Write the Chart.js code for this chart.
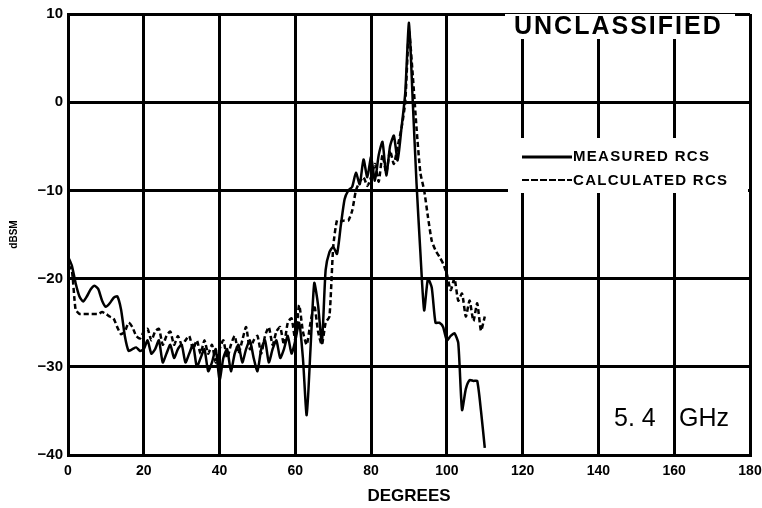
<!DOCTYPE html>
<html>
<head>
<meta charset="utf-8">
<script src="https://cdn.jsdelivr.net/npm/chart.js@4"></script>
<style>
  html, body { margin: 0; padding: 0; background: #fff; }
  #wrap { width: 762px; height: 508px; }
</style>
</head>
<body>
<div id="wrap"><canvas id="chart" width="762" height="508"></canvas></div>
<script>
// aspect angle, degrees
const degrees = [];
for (let d = 0; d <= 110; d++) degrees.push(d);

const measuredRcs = [
  -17.5, -18.5, -20.5, -22, -22.6, -22, -21.2, -20.8, -21.2, -22.5,
  -23.2, -22.8, -22.2, -22, -23.5, -26.5, -28.2, -28, -27.8, -28.2,
  -28, -27, -28.5, -28, -27, -29.5, -28.5, -27.5, -29, -28,
  -27.5, -29.5, -28.5, -27.5, -30, -29, -28, -30.5, -29.5, -28,
  -31.5, -29, -28, -30.5, -28.5, -27.5, -29.5, -28, -27, -29,
  -30.5, -28, -27, -29.5, -28, -27, -29, -28, -26.5, -28.5,
  -27, -25, -29, -35.5, -28, -20.5, -23, -27.3, -19, -17,
  -16.4, -17.2, -14, -11, -10, -9.6, -8, -9.3, -6.5, -8.5,
  -6.2, -8.9, -6, -4.5, -8.3, -5, -3.8, -6.6, -3, 1,
  9, 0, -9.3, -17, -23.6, -20, -21, -25, -25, -25.5,
  -27, -26.5, -26.2, -27.3, -34.9, -32.5, -31.5, -31.6, -31.6, -35,
  -39.2
];

const calculatedRcs = [
  -18.5, -19, -23.5, -24, -24, -24, -24, -24, -24, -23.8,
  -24, -24.3, -24.5, -25.5, -26.3, -26, -25, -25.5, -26.5, -26.8,
  -26, -25.7, -27, -26, -25.7, -27.5, -26.5, -26, -27.5, -26.5,
  -27.5, -27, -26.5, -28, -27, -28.5, -27, -28.5, -27.5, -29.5,
  -28, -27, -29, -27.5, -26.5, -28.5, -27, -25.5, -28, -27,
  -26.5, -28.5, -26.5, -25.5, -27.5, -26, -25.5, -27.5, -25, -24.5,
  -27, -23, -26, -27.5, -25, -23, -26, -27.5, -25, -24.3,
  -16.4, -13.4, -13.5, -13.4, -13.4, -12.3, -10, -9, -8.5, -9.5,
  -8.5, -7, -9, -6, -8, -5.5, -7, -5, -3, 0,
  8, 3, -3, -8, -10, -13, -15.7, -16.8, -17.5, -18.3,
  -19.5, -21.3, -20, -22.5, -21.7, -24.3, -22.5, -24.8, -22.8, -25.9,
  -24.3
];

const xTickLabels = ['0', '20', '40', '60', '80', '100', '120', '140', '160', '180'];
const yTickLabels = ['\u221240', '\u221230', '\u221220', '\u221210', '0', '10'];

const seriesNames = ['MEASURED RCS', 'CALCULATED RCS'];

/* ---------------- annotations (stamp, legend, frequency) ---------------- */

const notes = {
  id: 'notes',
  afterDatasetsDraw(c) {
    const ctx = c.ctx;
    const right = c.chartArea.right;
    ctx.save();
    ctx.fillStyle = '#fff';
    ctx.fillRect(505, 14, right - 15 - 505, 25);   // behind UNCLASSIFIED
    ctx.fillRect(508, 138, right - 2 - 508, 55);   // behind legend

    ctx.fillStyle = '#000';
    ctx.textBaseline = 'middle';
    ctx.textAlign = 'left';

    ctx.font = 'bold 25px "Liberation Sans"';
    ctx.letterSpacing = '2px';
    ctx.fillText('UNCLASSIFIED', 514, 27);

    ctx.font = 'bold 15px "Liberation Sans"';
    ctx.letterSpacing = '1.3px';
    ctx.fillText(seriesNames[0], 573, 157);
    ctx.fillText(seriesNames[1], 573, 181);
    ctx.letterSpacing = '0px';

    ctx.strokeStyle = '#000';
    ctx.lineWidth = 3;
    ctx.beginPath();
    ctx.moveTo(522, 157); ctx.lineTo(572, 157);
    ctx.stroke();
    ctx.lineWidth = 2;
    ctx.setLineDash([7, 2]);
    ctx.beginPath();
    ctx.moveTo(522, 180); ctx.lineTo(572, 180);
    ctx.stroke();
    ctx.setLineDash([]);

    ctx.font = '25px "Liberation Sans"';
    ctx.fillText('5. 4', 614, 419);
    ctx.fillText('GHz', 679, 419);
    ctx.restore();
  }
};

/* ---------------- CHART.JS ---------------- */

Chart.defaults.font.family = '"Liberation Sans", "DejaVu Sans", sans-serif';
Chart.defaults.color = '#000';

new Chart(document.getElementById('chart'), {
  type: 'line',
  data: {
    datasets: [
      {
        label: seriesNames[0],
        data: degrees.map((d, i) => ({ x: d, y: measuredRcs[i] })),
        borderColor: '#000',
        borderWidth: 2.5,
        pointRadius: 0,
        tension: 0.2
      },
      {
        label: seriesNames[1],
        data: degrees.map((d, i) => ({ x: d, y: calculatedRcs[i] })),
        borderColor: '#000',
        borderWidth: 2.5,
        borderDash: [5, 3],
        pointRadius: 0,
        tension: 0.2
      }
    ]
  },
  options: {
    responsive: false,
    animation: false,
    layout: { padding: { top: 12, right: 12, left: 0, bottom: 0 } },
    plugins: { legend: { display: false }, tooltip: { enabled: false } },
    scales: {
      x: {
        type: 'linear',
        min: 0,
        max: 180,
        afterFit: s => {
          s.height = 53;
          s.paddingLeft = 0;
          s.paddingRight = 0;
        },
        ticks: {
          stepSize: 20,
          padding: 8,
          font: { size: 14, weight: 'bold' },
          callback: (v, i) => xTickLabels[i]
        },
        grid: { color: '#000', lineWidth: 3, drawTicks: false },
        border: { color: '#000', width: 3 },
        title: {
          display: true,
          text: 'DEGREES',
          font: { size: 17, weight: 'bold' },
          padding: { top: 0, bottom: 1 }
        }
      },
      y: {
        min: -40,
        max: 10,
        afterFit: s => { s.width = 68; },
        ticks: {
          stepSize: 10,
          padding: 5,
          font: { size: 15, weight: 'bold' },
          callback: (v, i) => yTickLabels[i]
        },
        grid: { color: '#000', lineWidth: 3, drawTicks: false },
        border: { color: '#000', width: 3 },
        title: {
          display: true,
          text: 'dBSM',
          font: { size: 10, weight: 'bold' },
          padding: { top: 8, bottom: 0 }
        }
      }
    }
  },
  plugins: [notes]
});
</script>
</body>
</html>
